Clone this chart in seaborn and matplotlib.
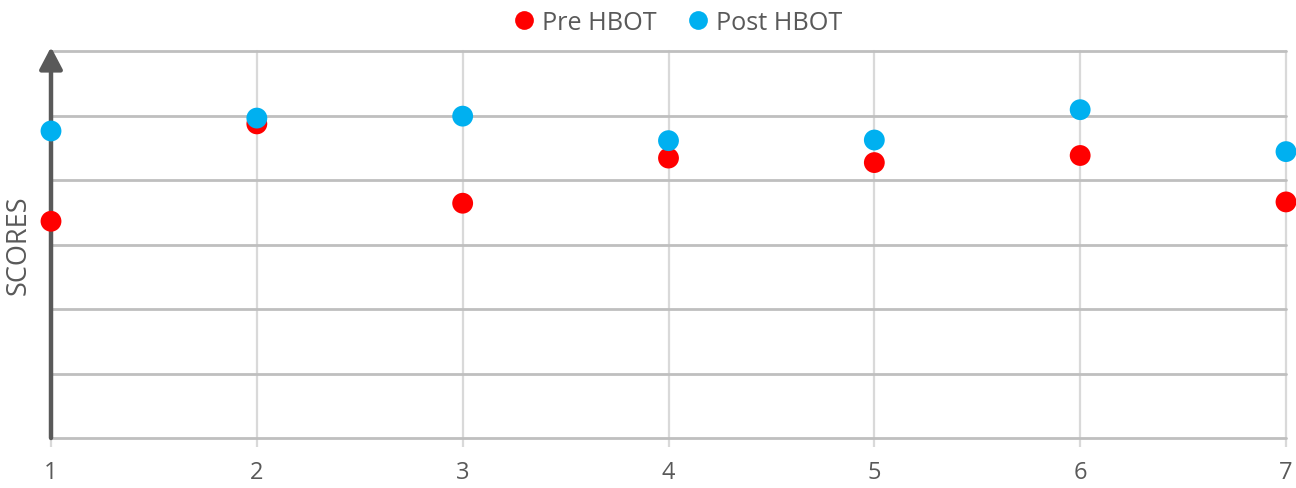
import matplotlib
matplotlib.use("Agg")
import matplotlib.pyplot as plt
from matplotlib.lines import Line2D
import seaborn as sns
import pandas as pd

# Session number and scores before / after HBOT
sessions = [1, 2, 3, 4, 5, 6, 7]
pre_hbot = [3.36, 4.87, 3.64, 4.34, 4.27, 4.38, 3.66]
post_hbot = [4.76, 4.96, 4.99, 4.61, 4.62, 5.09, 4.44]
series_names = ["Pre HBOT", "Post HBOT"]
series_colors = ["#FF0000", "#00B0F0"]

df = pd.DataFrame({
    "session": sessions * 2,
    "score": pre_hbot + post_hbot,
    "group": [series_names[0]] * len(sessions) + [series_names[1]] * len(sessions),
})

sns.set_theme(style="white")
plt.rcParams["font.family"] = ["Open Sans", "DejaVu Sans"]
text_color = "#595959"

fig = plt.figure(figsize=(12.96, 4.89), dpi=100)
ax = fig.add_axes([51 / 1296, 50 / 489, 1235 / 1296, 387 / 489])

# Grid lines: horizontal a bit darker than vertical
for yv in range(0, 7):
    ax.axhline(yv, color="#BFBFBF", lw=2.0, zorder=1, clip_on=False)
for xv in sessions:
    ax.axvline(xv, color="#D9D9D9", lw=1.6, zorder=0.9, clip_on=False)

sns.scatterplot(
    data=df, x="session", y="score", hue="group",
    palette=dict(zip(series_names, series_colors)),
    s=225, edgecolor="none", linewidth=0, ax=ax, legend=False,
    zorder=3, clip_on=False,
)

ax.set_xlim(1, 7)
ax.set_ylim(0, 6)
for sp in ax.spines.values():
    sp.set_visible(False)

ax.set_xticks(sessions)
ax.set_xticklabels([str(s) for s in sessions])
ax.tick_params(axis="x", length=6.5, width=1.6, color="#D9D9D9",
               labelcolor=text_color, labelsize=17, pad=9, bottom=True)
ax.set_yticks([])
ax.set_xlabel("")
ax.set_ylabel("SCORES", color=text_color, fontsize=19.5, labelpad=13)

# Value axis drawn as an arrow
ax.annotate("", xy=(0, 1.01), xytext=(0, 0), xycoords="axes fraction",
            textcoords="axes fraction",
            arrowprops=dict(arrowstyle="-|>,head_length=0.95,head_width=0.5",
                            mutation_scale=14,
                            color="#595959", lw=3.2, shrinkA=0, shrinkB=0),
            zorder=2, annotation_clip=False)

handles = [Line2D([0], [0], marker="o", linestyle="none", markersize=13.5,
                  markerfacecolor=c, markeredgecolor="none") for c in series_colors]
fig.legend(handles, series_names, loc="center", bbox_to_anchor=(0.522, 0.952),
           ncol=2, frameon=False, fontsize=18.2, labelcolor=text_color,
           handletextpad=0.2, columnspacing=1.15, handlelength=1.0)

fig.savefig("out.png", dpi=100, facecolor="white")
